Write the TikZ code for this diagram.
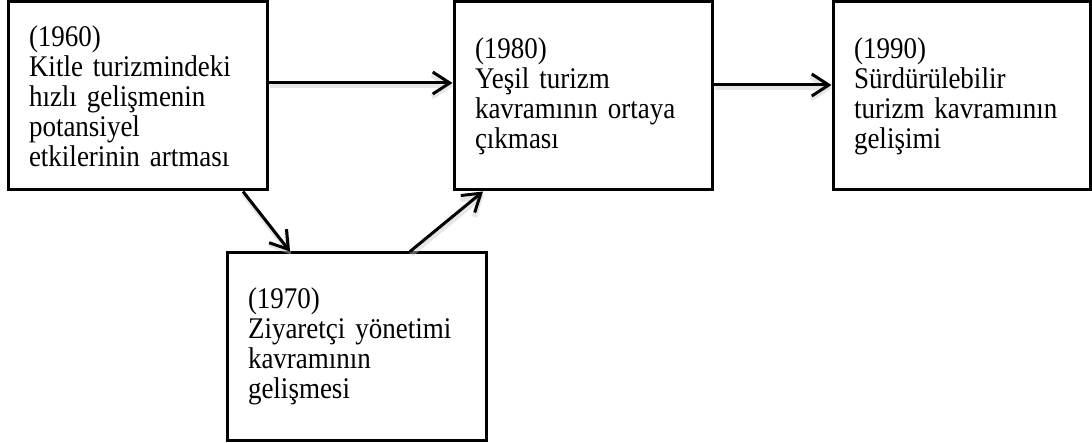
\documentclass[tikz,border=0pt]{standalone}
\usepackage{fontspec}
\setmainfont{Liberation Serif}
\newfontfamily\boxfont[FakeStretch=0.9,WordSpace=0.85]{Liberation Serif}
\usetikzlibrary{arrows.meta}
\begin{document}
\begin{tikzpicture}[x=1pt,y=-1pt,
  stagebox/.style={draw, line width=3pt, inner xsep=21pt, inner ysep=0pt,
    align=left, font=\boxfont\fontsize{30}{30}\selectfont},
  flow/.style={line width=3pt, -{Straight Barb[length=17pt,width=22pt]},
    preaction={draw=black!22, line width=5pt, opacity=0.45,
      transform canvas={shift={(1pt,-3pt)}}}}
]
\useasboundingbox (0,0) rectangle (1092,443);

% the four stages
\node[stagebox, minimum width=259pt, minimum height=188pt, text width=217pt]
  (b1) at (137.5,96) {(1960)\\Kitle turizmindeki\\hızlı gelişmenin\\potansiyel\\etkilerinin artması};
\node[stagebox, minimum width=258pt, minimum height=188pt, text width=216pt]
  (b2) at (583,96) {(1980)\\Yeşil turizm\\kavramının ortaya\\çıkması};
\node[stagebox, minimum width=257pt, minimum height=188pt, text width=215pt]
  (b3) at (961.5,96) {(1990)\\Sürdürülebilir\\turizm kavramının\\gelişimi};
\node[stagebox, minimum width=259pt, minimum height=187pt, text width=217pt]
  (b4) at (356.5,346.5) {(1970)\\Ziyaretçi yönetimi\\kavramının\\gelişmesi};

% reference points for where the connectors meet the boxes
\coordinate (r12) at (0,83);
\coordinate (r23) at (0,85);
\coordinate (c14) at (243,0);
\coordinate (c41) at (290,0);
\coordinate (c42) at (410,0);
\coordinate (c24) at (483,0);

% connectors
\draw[flow] (b1.east |- r12) -- (b2.west |- r12);
\draw[flow] (b2.east |- r23) -- (b3.west |- r23);
\draw[flow] (b1.south -| c14) -- (b4.north -| c41);
\draw[flow] (b4.north -| c42) -- (b2.south -| c24);
\end{tikzpicture}
\end{document}
